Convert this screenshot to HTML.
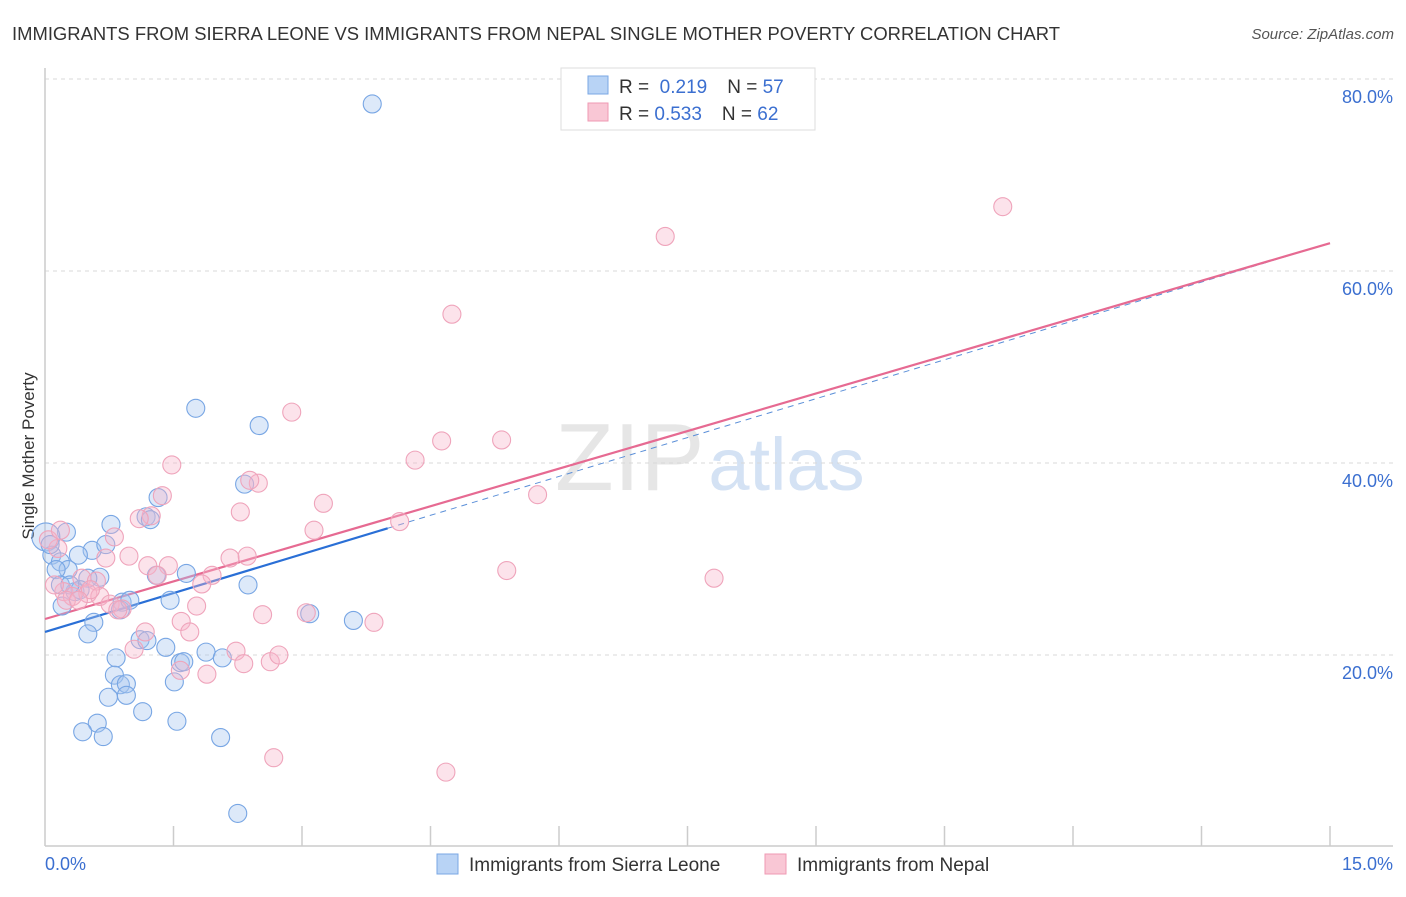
<!DOCTYPE html>
<html><head><meta charset="utf-8"><style>
body{margin:0;background:#fff;font-family:"Liberation Sans",sans-serif}
svg text{font-family:"Liberation Sans",sans-serif}
</style></head><body>
<svg id="chart" width="1406" height="892" xmlns="http://www.w3.org/2000/svg">
<text x="12" y="40" font-size="18" fill="#333" textLength="1048" lengthAdjust="spacingAndGlyphs">IMMIGRANTS FROM SIERRA LEONE VS IMMIGRANTS FROM NEPAL SINGLE MOTHER POVERTY CORRELATION CHART</text>
<text x="1394" y="39" font-size="15" fill="#555" text-anchor="end" font-style="italic">Source: ZipAtlas.com</text>
<text x="555" y="490" font-size="96" fill="#e6e6e6" font-family="Liberation Serif">ZIP<tspan dx="4" fill="#d4e2f4" font-family="Liberation Sans" font-size="74">atlas</tspan></text>
<text transform="translate(34,456) rotate(-90)" font-size="17" fill="#333" text-anchor="middle">Single Mother Poverty</text>
<g id="grid"></g><g id="axes"></g><g id="trend"></g><g id="pts"></g>
<g>
<rect x="561" y="68" width="254" height="62" fill="#fff" stroke="#ddd"/>
<rect x="588" y="76" width="20" height="18" fill="#b8d3f5" stroke="#7aa7e4"/>
<rect x="588" y="103" width="20" height="18" fill="#f9c7d5" stroke="#ef9ab3"/>
<text x="619" y="93" font-size="19" fill="#333">R = <tspan fill="#3b6fd0">&#160;0.219</tspan><tspan dx="20" fill="#333">N = </tspan><tspan fill="#3b6fd0">57</tspan></text>
<text x="619" y="120" font-size="19" fill="#333">R = <tspan fill="#3b6fd0">0.533</tspan><tspan dx="20" fill="#333">N = </tspan><tspan fill="#3b6fd0">62</tspan></text>
</g>
<g>
<rect x="437" y="854" width="21" height="20" fill="#b8d3f5" stroke="#7aa7e4"/>
<text x="469" y="871" font-size="19" fill="#333">Immigrants from Sierra Leone</text>
<rect x="765" y="854" width="21" height="20" fill="#f9c7d5" stroke="#ef9ab3"/>
<text x="797" y="871" font-size="19" fill="#333">Immigrants from Nepal</text>
</g>
</svg>
<script>
const yTicks=[20,40,60,80];
const yTickLabels=["20.0%","40.0%","60.0%","80.0%"];
const xTickCount=10;
const xEndLabels=["0.0%","15.0%"];
const blueX=[3.82,1.76,2.50,2.33,1.32,1.18,0.77,0.25,0.01,0.55,0.39,0.71,0.08,0.18,0.27,0.13,0.64,0.50,1.65,1.30,0.35,0.41,0.20,0.90,1.46,2.37,3.09,3.60,0.57,0.50,0.88,1.11,1.19,1.41,1.58,1.62,1.88,2.07,1.51,0.83,0.81,0.88,0.95,0.95,0.74,1.14,0.61,1.54,0.44,0.68,2.05,2.25,0.18,0.06,0.29,0.99,1.23];
const blueY=[77.4,45.7,43.9,37.8,36.4,34.4,33.6,32.8,32.3,30.9,30.4,31.5,30.4,29.7,28.9,28.9,28.1,28.0,28.5,28.3,26.6,26.8,25.1,25.5,25.7,27.3,24.3,23.6,23.4,22.2,24.7,21.6,21.5,20.8,19.2,19.3,20.3,19.7,17.2,19.7,17.9,16.9,17.0,15.8,15.6,14.1,12.9,13.1,12.0,11.5,11.4,3.5,27.3,31.5,27.3,25.7,34.1];
const pinkX=[11.18,7.24,4.75,2.88,5.33,4.63,4.32,1.48,1.37,2.49,2.28,3.25,1.24,1.10,0.81,0.15,5.75,3.14,4.14,5.39,7.81,3.84,0.98,1.20,1.44,2.16,2.36,0.71,0.43,0.60,1.95,1.83,1.31,0.22,0.32,0.50,0.64,0.76,0.90,1.77,1.59,1.69,1.17,1.04,2.54,3.05,2.23,2.32,2.63,2.73,1.89,1.58,2.67,4.68,0.04,0.18,0.25,0.11,0.53,0.39,2.39,0.85];
const pinkY=[66.7,63.6,55.5,45.3,42.4,42.3,40.3,39.8,36.6,37.9,34.9,35.8,34.5,34.2,32.3,31.1,36.7,33.0,33.9,28.8,28.0,23.4,30.3,29.3,29.3,30.1,30.3,30.1,28.0,27.7,28.3,27.4,28.3,26.6,26.1,26.4,26.1,25.3,24.8,25.1,23.5,22.4,22.4,20.6,24.2,24.4,20.4,19.1,19.3,20.0,18.0,18.4,9.3,7.8,32.0,33.0,25.7,27.3,26.8,25.7,38.2,24.7];
const blueTrend=[22.4,62.9]; const blueSolidEnd=4.0;
const pinkTrend=[23.75,62.9];
const NS="http://www.w3.org/2000/svg";
const sx=v=>45+v/15*1285, sy=v=>847-v*9.6;
function mk(tag,at,parent){const e=document.createElementNS(NS,tag);for(const k in at)e.setAttribute(k,at[k]);parent.appendChild(e);return e;}
const grid=document.getElementById('grid'),axes=document.getElementById('axes'),trend=document.getElementById('trend'),pts=document.getElementById('pts');
yTicks.forEach((t,i)=>{
 const l=mk('line',{x1:45,x2:1393,y1:sy(t),y2:sy(t),stroke:'#d8d8d8','stroke-dasharray':'4,4'},grid);
 
 
 const tx=mk('text',{x:1393,y:sy(t)+24,'font-size':18,fill:'#3b6fd0','text-anchor':'end'},grid);
 tx.textContent=yTickLabels[i];
 
 
});
const xa=mk('line',{x1:45,x2:1393,y1:846,y2:846,stroke:'#ccc','stroke-width':1.5},axes);


const ya=mk('line',{x1:45,x2:45,y1:68,y2:846,stroke:'#ccc','stroke-width':1.5},axes);


for(let i=1;i<=xTickCount;i++){const x=sx(i*15/xTickCount);
 const t=mk('line',{x1:x,x2:x,y1:826,y2:846,stroke:'#ccc','stroke-width':1.5},axes);
 
 }
const xl0=mk('text',{x:45,y:870,'font-size':18,fill:'#3b6fd0'},axes);xl0.textContent=xEndLabels[0];


const xl1=mk('text',{x:1393,y:870,'font-size':18,fill:'#3b6fd0','text-anchor':'end'},axes);xl1.textContent=xEndLabels[1];


function draw(xs,ys,fill,stroke,name){xs.forEach((x,i)=>{
 const r=(name==='sierra-leone'&&i===8)?14:9;
 const c=mk('circle',{cx:sx(x),cy:sy(ys[i]),r:r,fill:fill,stroke:stroke,'stroke-width':1.1},pts);
 
 });}
draw(blueX,blueY,'rgba(165,198,240,0.38)','#78a6e4','sierra-leone');
draw(pinkX,pinkY,'rgba(248,182,202,0.38)','#efa4bb','nepal');
const bAt=x=>blueTrend[0]+(blueTrend[1]-blueTrend[0])*x/15;
const bd=mk('line',{x1:sx(blueSolidEnd),y1:sy(bAt(blueSolidEnd)),x2:sx(15),y2:sy(bAt(15)),stroke:'#5b8fd8','stroke-width':1,'stroke-dasharray':'6,5'},trend);


const pl=mk('line',{x1:sx(0),y1:sy(pinkTrend[0]),x2:sx(15),y2:sy(pinkTrend[1]),stroke:'#e66a92','stroke-width':2.2},trend);


const bl=mk('line',{x1:sx(0),y1:sy(bAt(0)),x2:sx(blueSolidEnd),y2:sy(bAt(blueSolidEnd)),stroke:'#2a6fd6','stroke-width':2.2},trend);


</script>
</body></html>
